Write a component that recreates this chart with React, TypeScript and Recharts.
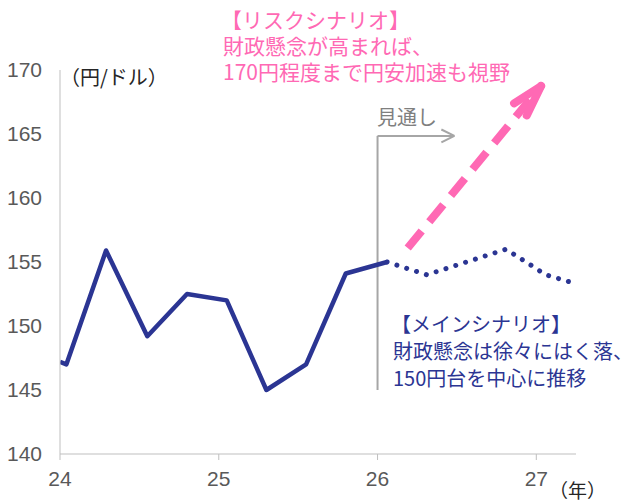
import { LineChart, Line, XAxis, YAxis, ReferenceLine } from 'recharts';

// actual rate (fractional year, yen per dollar)
const X_ACTUAL = [24.0, 24.04, 24.29, 24.55, 24.8, 25.05, 25.3, 25.55, 25.8, 26.06];
const Y_ACTUAL = [147.2, 147.0, 155.9, 149.2, 152.5, 152.0, 145.0, 147.0, 154.1, 155.0];

// main-scenario outlook (dotted)
const X_OUTLOOK = [26.06, 26.31, 26.56, 26.81, 27.06, 27.25];
const Y_OUTLOOK = [155.0, 154.0, 155.0, 156.0, 154.0, 153.3];

const X_TICKS = [24, 25, 26, 27];
const Y_TICKS = [140, 145, 150, 155, 160, 165, 170];

// annotation anchors in data units
const RISK_ARROW = { from: { x: 26.19, y: 156.1 }, tip: { x: 27.03, y: 168.75 } };
const RISK_ARMS = [{ x: 26.86, y: 167.4 }, { x: 26.94, y: 166.45 }];
const OUTLOOK_BRACKET = { x: 26.0, bottom: 145.0, top: 164.85, end: 26.484 };

const RISK_TEXT = ['【リスクシナリオ】', '財政懸念が高まれば、', '170円程度まで円安加速も視野'];
const MAIN_TEXT = ['【メインシナリオ】', '財政懸念は徐々にはく落、', '150円台を中心に推移'];

const NAVY = '#2B3593';
const PINK = '#FF69B4';
const GREY_AXIS = '#BFBFBF';
const GREY_BRACKET = '#A6A6A6';
const TICK_FONT = "'Liberation Sans', Arial, sans-serif";
const JP_FONT = "'Noto Sans CJK JP', sans-serif";

const rows = (() => {
  const map = new Map<number, any>();
  X_ACTUAL.forEach((x, i) => map.set(x, { x, actual: Y_ACTUAL[i] }));
  X_OUTLOOK.forEach((x, i) => map.set(x, { ...(map.get(x) || { x }), outlook: Y_OUTLOOK[i] }));
  return Array.from(map.values()).sort((a, b) => a.x - b.x);
})();

export default function App() {
  const arm = (p: { x: number; y: number }, i: number) => (
    <ReferenceLine
      key={'arm' + i}
      segment={[RISK_ARROW.tip, p]}
      stroke={PINK}
      strokeWidth={8}
      strokeLinecap="round"
      ifOverflow="visible"
    />
  );

  const b = OUTLOOK_BRACKET;

  return (
    <div style={{ position: 'absolute', left: 0, top: 0, width: 629, height: 501, background: '#fff' }}>
      <LineChart width={629} height={501} data={rows} margin={{ top: 70, right: 53, left: 0, bottom: 0 }}>
        <XAxis
          dataKey="x"
          type="number"
          domain={[24, 27.25]}
          ticks={X_TICKS}
          allowDataOverflow
          height={47}
          axisLine={{ stroke: GREY_AXIS }}
          tickLine={{ stroke: GREY_AXIS }}
          tickSize={6}
          tickMargin={11}
          tick={{ fill: '#595959', fontSize: 21, fontFamily: TICK_FONT }}
        />
        <YAxis
          type="number"
          domain={[140, 170]}
          ticks={Y_TICKS}
          width={60}
          axisLine={{ stroke: GREY_AXIS }}
          tickLine={false}
          tickMargin={12}
          tick={{ fill: '#595959', fontSize: 21, fontFamily: TICK_FONT }}
        />

        {/* outlook bracket */}
        <ReferenceLine segment={[{ x: b.x, y: b.bottom }, { x: b.x, y: b.top }]} stroke={GREY_BRACKET} strokeWidth={2} ifOverflow="visible" />
        <ReferenceLine segment={[{ x: b.x, y: b.top }, { x: b.end, y: b.top }]} stroke={GREY_BRACKET} strokeWidth={2} ifOverflow="visible" />
        <ReferenceLine segment={[{ x: b.end, y: b.top }, { x: b.end - 0.082, y: b.top + 0.5 }]} stroke={GREY_BRACKET} strokeWidth={2} ifOverflow="visible" />
        <ReferenceLine segment={[{ x: b.end, y: b.top }, { x: b.end - 0.082, y: b.top - 0.5 }]} stroke={GREY_BRACKET} strokeWidth={2} ifOverflow="visible" />

        {/* risk scenario arrow */}
        <ReferenceLine
          segment={[RISK_ARROW.from, RISK_ARROW.tip]}
          stroke={PINK}
          strokeWidth={8}
          strokeDasharray="22 12"
          ifOverflow="visible"
        />
        {RISK_ARMS.map(arm)}

        <Line
          dataKey="actual"
          stroke={NAVY}
          strokeWidth={4.5}
          strokeLinejoin="round"
          dot={false}
          isAnimationActive={false}
        />
        <Line
          dataKey="outlook"
          stroke={NAVY}
          strokeWidth={5}
          strokeDasharray="0.01 10.3"
          strokeLinecap="round"
          dot={false}
          isAnimationActive={false}
        />
      </LineChart>

      <svg width={629} height={501} style={{ position: 'absolute', left: 0, top: 0, pointerEvents: 'none' }}>
        <text x={60} y={76} dominantBaseline="central" fontSize={20} fill="#262626" fontFamily={JP_FONT}>（円/ドル）</text>
        <text x={549} y={489} dominantBaseline="central" fontSize={19} fill="#262626" fontFamily={JP_FONT}>（年）</text>
        <text x={377} y={116} dominantBaseline="central" fontSize={20} fill="#7F7F7F" fontFamily={JP_FONT}>見通し</text>
        {RISK_TEXT.map((t, i) => (
          <text key={t} x={i === 0 ? 221 : 223} y={19 + i * 26} dominantBaseline="central" fontSize={21} fill={PINK} fontFamily={JP_FONT}>{t}</text>
        ))}
        {MAIN_TEXT.map((t, i) => (
          <text key={t} x={i === 0 ? 391 : 393} y={323 + i * 27} dominantBaseline="central" fontSize={20} fill={NAVY} fontFamily={JP_FONT}>{t}</text>
        ))}
      </svg>
    </div>
  );
}
